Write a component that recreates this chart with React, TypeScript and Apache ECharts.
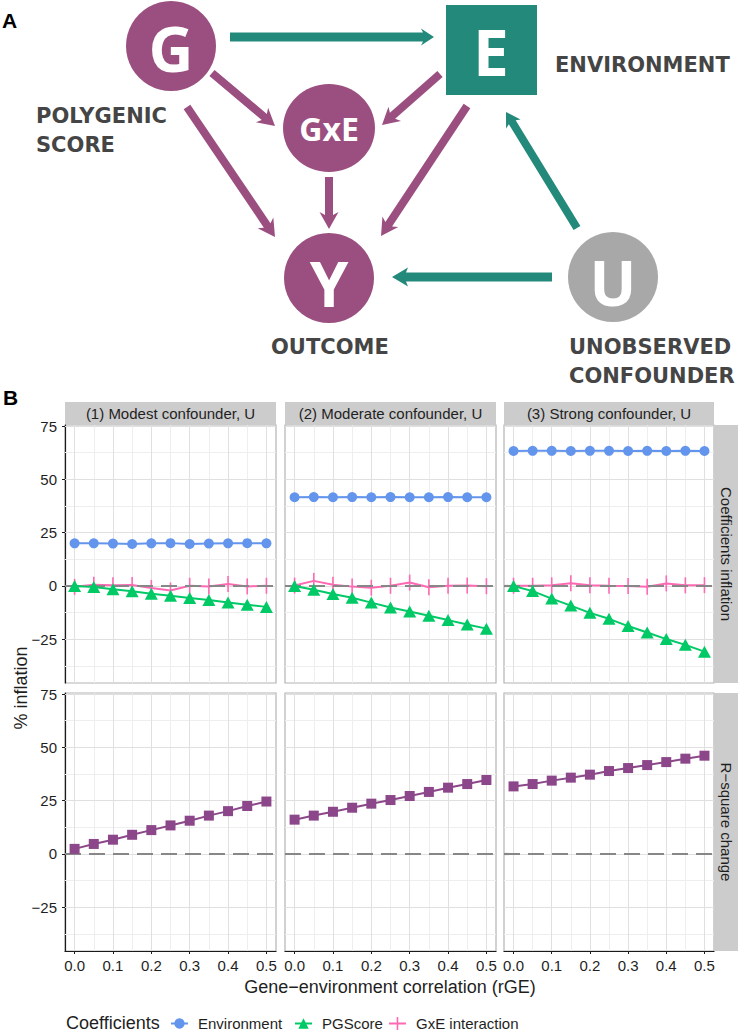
import React, { useEffect, useRef } from "react";
import * as echarts from "echarts";

// ---------- data ----------
const rGE = [0, 0.05, 0.1, 0.15, 0.2, 0.25, 0.3, 0.35, 0.4, 0.45, 0.5];
const xTickValues = [0, 0.1, 0.2, 0.3, 0.4, 0.5];
const xMinorBreaks = [0.05, 0.15, 0.25, 0.35, 0.45];
const yTickValues = [-25, 0, 25, 50, 75];
const yMinorBreaks = [-37.5, -12.5, 12.5, 37.5, 62.5];
const panelTitles = ["(1) Modest confounder, U", "(2) Moderate confounder, U", "(3) Strong confounder, U"];
const rowTitles = ["Coefficients inflation", "R\u2212square change"];
const seriesNames = ["Environment", "PGScore", "GxE interaction"];

const environment1 = [20.0, 20.0, 19.9, 19.7, 20.0, 20.1, 19.7, 19.9, 20.0, 20.1, 20.0];
const environment2 = [41.6, 41.7, 41.6, 41.7, 41.6, 41.7, 41.6, 41.6, 41.7, 41.6, 41.6];
const environment3 = [63.3, 63.4, 63.4, 63.3, 63.4, 63.4, 63.3, 63.4, 63.3, 63.4, 63.3];
const pgscore1 = [0, -0.5, -1.5, -2.5, -3.6, -4.6, -5.6, -6.6, -7.7, -8.8, -9.8];
const pgscore2 = [0, -1.8, -3.8, -5.5, -7.8, -10.1, -12.0, -14.0, -16.0, -18.1, -20.0];
const pgscore3 = [0, -2.4, -5.9, -9.2, -12.6, -15.4, -18.8, -21.8, -24.9, -27.6, -30.8];
const gxe1 = [-0.4, 0.6, 0.3, 0.5, -0.9, -2.1, 0.1, -0.2, 0.9, -0.2, 0.1];
const gxe2 = [0.2, 2.4, 0.6, -0.3, -0.8, 0.1, 1.6, -0.6, 0.1, 0.2, -0.1];
const gxe3 = [0.1, 0.1, 0.3, 1.3, 0.4, 0.1, 0.0, -0.4, 1.2, 0.3, 0.4];
const rsquare1 = [2.4, 4.7, 6.7, 9.0, 11.2, 13.4, 15.6, 18.0, 20.1, 22.5, 24.6];
const rsquare2 = [16.1, 18.0, 19.8, 21.7, 23.6, 25.3, 27.2, 29.1, 31.1, 32.8, 34.7];
const rsquare3 = [31.7, 32.8, 34.4, 35.8, 37.2, 38.9, 40.3, 41.7, 43.1, 44.7, 46.1];

const environmentSets = [environment1, environment2, environment3];
const pgscoreSets = [pgscore1, pgscore2, pgscore3];
const gxeSets = [gxe1, gxe2, gxe3];
const rsquareSets = [rsquare1, rsquare2, rsquare3];

// ---------- styles ----------
const FONT = '"Liberation Sans", Arial, Helvetica, sans-serif';
const BLUE = "#6495ED";
const GREEN = "#00C966";
const PINK = "#FF69B4";
const PLUM = "#8B4789";
const PURPLE = "#9B4F80";
const TEAL = "#23897A";
const NODEGRAY = "#A8A8A8";
const LABEL = "#454545";
const TXT = "#1f1f1f";

const colLeft = [65, 285, 504];
const colW = [211, 211, 210];
const rowTop = [425, 693];
const rowH = 258;
const Y_MIN = -45.5;
const Y_MAX = 75.5;

function arrow(x1: number, y1: number, x2: number, y2: number, color: string, sw = 8, hl = 14, hw = 19, notch = 3) {
  const L = Math.hypot(x2 - x1, y2 - y1);
  const ux = (x2 - x1) / L, uy = (y2 - y1) / L;
  const nx = -uy, ny = ux;
  const bx = x2 - ux * hl, by = y2 - uy * hl;
  const cx = bx - ux * notch, cy = by - uy * notch;
  const pts = [
    [x1 + nx * sw / 2, y1 + ny * sw / 2],
    [bx + nx * sw / 2, by + ny * sw / 2],
    [cx + nx * hw / 2, cy + ny * hw / 2],
    [x2, y2],
    [cx - nx * hw / 2, cy - ny * hw / 2],
    [bx - nx * sw / 2, by - ny * sw / 2],
    [x1 - nx * sw / 2, y1 - ny * sw / 2],
  ];
  return { type: "polygon", shape: { points: pts }, style: { fill: color }, silent: true };
}

function txt(text: string, x: number, y: number, opts: any = {}) {
  const align = opts.align || "left";
  return {
    type: "text",
    x,
    y,
    rotation: opts.rotation || 0,
    silent: true,
    z: opts.z || 10,
    style: {
      text,
      fill: opts.fill || TXT,
      fontSize: opts.fontSize || 15,
      fontWeight: opts.fontWeight || "normal",
      fontFamily: opts.fontFamily || FONT,
      align,
      textAlign: align,
      verticalAlign: "middle",
      textVerticalAlign: "middle",
    },
  };
}

function buildOption() {
  const grids: any[] = [];
  const xAxes: any[] = [];
  const yAxes: any[] = [];
  const series: any[] = [];

  const gridLines = [
    ...xMinorBreaks.map((v) => ({ xAxis: v, lineStyle: { color: "#EEEEEE", width: 1, type: "solid" } })),
    ...yMinorBreaks.map((v) => ({ yAxis: v, lineStyle: { color: "#EEEEEE", width: 1, type: "solid" } })),
    ...xTickValues.map((v) => ({ xAxis: v, lineStyle: { color: "#E0E0E0", width: 1, type: "solid" } })),
    ...yTickValues.map((v) => ({ yAxis: v, lineStyle: { color: "#E0E0E0", width: 1, type: "solid" } })),
  ];

  for (let r = 0; r < 2; r++) {
    for (let c = 0; c < 3; c++) {
      const idx = r * 3 + c;
      grids.push({
        left: colLeft[c],
        top: rowTop[r],
        width: colW[c],
        height: rowH,
        show: true,
        backgroundColor: "#FFFFFF",
        borderColor: "#B3B3B3",
        borderWidth: 1.2,
        containLabel: false,
      });
      xAxes.push({
        type: "value",
        gridIndex: idx,
        min: -0.025,
        max: 0.525,
        splitLine: { show: false },
        axisLine: { show: r === 1, onZero: false, lineStyle: { color: "#1a1a1a", width: 1.2 } },
        axisTick: { show: r === 1, length: 3, customValues: xTickValues, lineStyle: { color: "#1a1a1a" } },
        axisLabel: {
          show: r === 1,
          customValues: xTickValues,
          formatter: (v: number) => v.toFixed(1),
          fontSize: 15,
          color: TXT,
          fontFamily: FONT,
          margin: 7,
        },
      });
      yAxes.push({
        type: "value",
        gridIndex: idx,
        min: Y_MIN,
        max: Y_MAX,
        splitLine: { show: false },
        axisLine: { show: c === 0, onZero: false, lineStyle: { color: "#1a1a1a", width: 1.2 } },
        axisTick: { show: c === 0, length: 3, customValues: yTickValues, lineStyle: { color: "#1a1a1a" } },
        axisLabel: {
          show: c === 0,
          customValues: yTickValues,
          formatter: (v: number) => (v < 0 ? "\u2212" + Math.abs(v) : String(v)),
          fontSize: 15,
          color: TXT,
          fontFamily: FONT,
          margin: 8,
        },
      });
      // grid lines
      series.push({
        type: "line",
        xAxisIndex: idx,
        yAxisIndex: idx,
        data: [],
        silent: true,
        z: 1,
        markLine: {
          silent: true,
          z: 1,
          symbol: ["none", "none"],
          label: { show: false },
          emphasis: { disabled: true },
          data: gridLines,
        },
      });
      // dashed zero reference
      series.push({
        type: "line",
        xAxisIndex: idx,
        yAxisIndex: idx,
        data: [],
        silent: true,
        z: 3,
        markLine: {
          silent: true,
          z: 3,
          symbol: ["none", "none"],
          label: { show: false },
          emphasis: { disabled: true },
          lineStyle: { color: "#878787", width: 2.2, type: [16, 8] },
          data: [{ yAxis: 0 }],
        },
      });
      const pairs = (ys: number[]) => rGE.map((x, i) => [x, ys[i]]);
      if (r === 0) {
        series.push({
          type: "line",
          name: seriesNames[2],
          xAxisIndex: idx,
          yAxisIndex: idx,
          data: pairs(gxeSets[c]),
          symbol: "rect",
          symbolSize: [1.6, 16],
          z: 2,
          lineStyle: { color: PINK, width: 2 },
          itemStyle: { color: PINK },
        });
        series.push({
          type: "line",
          name: seriesNames[0],
          xAxisIndex: idx,
          yAxisIndex: idx,
          data: pairs(environmentSets[c]),
          symbol: "circle",
          symbolSize: 10,
          z: 4,
          lineStyle: { color: BLUE, width: 2 },
          itemStyle: { color: BLUE },
        });
        series.push({
          type: "line",
          name: seriesNames[1],
          xAxisIndex: idx,
          yAxisIndex: idx,
          data: pairs(pgscoreSets[c]),
          symbol: "triangle",
          symbolSize: [13, 12],
          z: 5,
          lineStyle: { color: GREEN, width: 2 },
          itemStyle: { color: GREEN },
        });
      } else {
        series.push({
          type: "line",
          name: "R-square change",
          xAxisIndex: idx,
          yAxisIndex: idx,
          data: pairs(rsquareSets[c]),
          symbol: "rect",
          symbolSize: 10,
          z: 4,
          lineStyle: { color: PLUM, width: 2 },
          itemStyle: { color: PLUM },
        });
      }
    }
  }

  const graphic: any[] = [];
  // ---- panel A diagram ----
  graphic.push(txt("A", 2, 20, { fontSize: 21, fontWeight: "bold", fill: "#000" }));
  // arrows
  graphic.push(arrow(230, 37, 434, 37, TEAL, 9, 11, 17, 2));
  graphic.push(arrow(212, 73, 275, 126, PURPLE));
  graphic.push(arrow(187, 107, 275, 237, PURPLE));
  graphic.push(arrow(329, 177, 329, 229, PURPLE));
  graphic.push(arrow(440, 74, 382, 125, PURPLE));
  graphic.push(arrow(467, 106, 381, 236, PURPLE));
  graphic.push(arrow(577, 228, 506, 112, TEAL, 8, 12, 17, 2));
  graphic.push(arrow(552, 277, 392, 277, TEAL, 9, 14, 19, 2));
  // nodes
  graphic.push({ type: "circle", shape: { cx: 171, cy: 46, r: 45 }, style: { fill: PURPLE }, silent: true });
  graphic.push({ type: "rect", shape: { x: 446, y: 5, width: 91, height: 90 }, style: { fill: TEAL }, silent: true });
  graphic.push({ type: "ellipse", shape: { cx: 329, cy: 128, rx: 46, ry: 44 }, style: { fill: PURPLE }, silent: true });
  graphic.push({ type: "circle", shape: { cx: 329, cy: 278, r: 45 }, style: { fill: PURPLE }, silent: true });
  graphic.push({ type: "circle", shape: { cx: 613, cy: 277, r: 45 }, style: { fill: NODEGRAY }, silent: true });
  const nodeFont = '"Open Sans", "DejaVu Sans", sans-serif';
  graphic.push(txt("G", 171, 48, { align: "center", fontSize: 62, fontWeight: "bold", fill: "#fff", fontFamily: nodeFont }));
  graphic.push(txt("E", 491, 51, { align: "center", fontSize: 64, fontWeight: "bold", fill: "#fff", fontFamily: nodeFont }));
  graphic.push(txt("GxE", 329, 128, { align: "center", fontSize: 32, fontWeight: "bold", fill: "#fff", fontFamily: nodeFont }));
  graphic.push(txt("Y", 329, 283, { align: "center", fontSize: 62, fontWeight: "bold", fill: "#fff", fontFamily: nodeFont }));
  graphic.push(txt("U", 613, 282, { align: "center", fontSize: 62, fontWeight: "bold", fill: "#fff", fontFamily: nodeFont }));
  const lblFont = '"DejaVu Sans", sans-serif';
  const lbl = (t: string, x: number, y: number) =>
    txt(t, x, y, { fontSize: 21, fontWeight: "bold", fill: LABEL, fontFamily: lblFont });
  graphic.push(lbl("ENVIRONMENT", 555, 65));
  graphic.push(lbl("POLYGENIC", 36, 116));
  graphic.push(lbl("SCORE", 36, 145));
  graphic.push(lbl("OUTCOME", 271, 347));
  graphic.push(lbl("UNOBSERVED", 569, 347));
  graphic.push(lbl("CONFOUNDER", 569, 376));

  // ---- panel B decorations ----
  graphic.push(txt("B", 3, 397, { fontSize: 21, fontWeight: "bold", fill: "#000" }));
  for (let c = 0; c < 3; c++) {
    graphic.push({ type: "rect", shape: { x: colLeft[c], y: 402, width: colW[c], height: 23 }, style: { fill: "#CCCCCC" }, silent: true });
    graphic.push(txt(panelTitles[c], colLeft[c] + colW[c] / 2, 413.5, { align: "center", fontSize: 15 }));
  }
  for (let r = 0; r < 2; r++) {
    graphic.push({ type: "rect", shape: { x: 714, y: rowTop[r], width: 24, height: rowH }, style: { fill: "#CCCCCC" }, silent: true });
    graphic.push(txt(rowTitles[r], 726, rowTop[r] + rowH / 2, { align: "center", fontSize: 15, rotation: -Math.PI / 2 }));
  }
  graphic.push(txt("% inflation", 21, 688, { align: "center", fontSize: 18, rotation: Math.PI / 2 }));
  graphic.push(txt("Gene\u2212environment correlation (rGE)", 390, 987, { align: "center", fontSize: 18 }));
  graphic.push(txt("Coefficients", 66, 1023, { fontSize: 18 }));

  const legendBase = {
    top: 1016,
    itemWidth: 17,
    itemHeight: 13,
    selectedMode: false,
    padding: 0,
    textStyle: { fontSize: 15, color: TXT, fontFamily: FONT, padding: [0, 0, 0, 5] },
  };

  return {
    animation: false,
    textStyle: { fontFamily: FONT },
    grid: grids,
    xAxis: xAxes,
    yAxis: yAxes,
    series,
    graphic: { elements: graphic },
    legend: [
      { ...legendBase, left: 170, data: [{ name: seriesNames[0] }] },
      { ...legendBase, left: 294, data: [{ name: seriesNames[1] }] },
      {
        ...legendBase,
        left: 389,
        data: [{ name: seriesNames[2], icon: "path://M0,5.6 L17,5.6 L17,7.4 L0,7.4 Z M7.7,0 L9.3,0 L9.3,13 L7.7,13 Z" }],
      },
    ],
  };
}

export default function App() {
  const ref = useRef<HTMLDivElement>(null);
  useEffect(() => {
    if (!ref.current) return;
    const chart = echarts.init(ref.current, undefined, { renderer: "svg" });
    chart.setOption(buildOption() as any);
    return () => chart.dispose();
  }, []);
  return <div ref={ref} style={{ width: 749, height: 1033, position: "absolute", left: 0, top: 0, background: "#fff" }} />;
}
